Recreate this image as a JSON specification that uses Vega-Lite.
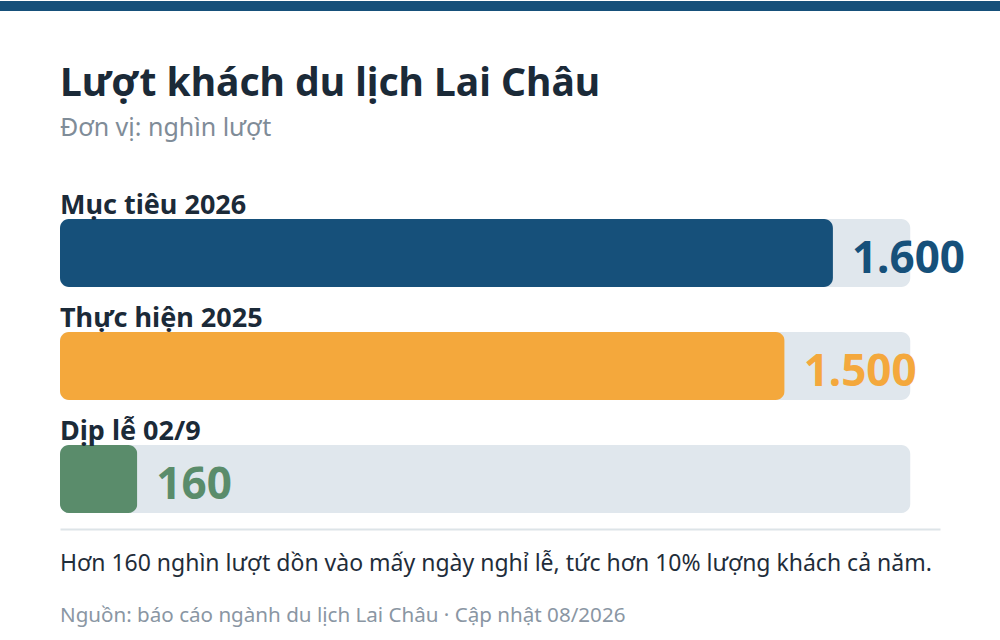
{
  "$schema": "https://vega.github.io/schema/vega-lite/v6.json",
  "background": "white",
  "padding": 0,
  "bounds": "flush",
  "spacing": 163,
  "config": {
    "font": "Noto Sans",
    "view": {"stroke": null},
    "locale": {"number": {"decimal": ",", "thousands": ".", "grouping": [3], "currency": ["", " ₫"]}}
  },
  "vconcat": [
    {
      "width": 1000,
      "height": 10,
      "view": {"fill": "#16507a", "stroke": null},
      "data": {"values": [{}]},
      "mark": {"type": "text", "text": ""},
      "encoding": {}
    },
    {
      "bounds": "flush",
      "spacing": 59,
      "hconcat": [
        {
          "width": 1,
          "height": 1,
          "data": {"values": [{}]},
          "mark": {"type": "text", "text": ""},
          "encoding": {}
        },
        {
          "bounds": "flush",
          "spacing": 16,
          "resolve": {"scale": {"color": "independent", "size": "independent"}},
          "vconcat": [
            {
              "width": 880,
              "height": 339,
              "title": {
                "text": "Lượt khách du lịch Lai Châu",
                "subtitle": "Đơn vị: nghìn lượt",
                "anchor": "start",
                "frame": "group",
                "font": "Noto Sans",
                "fontSize": 39,
                "fontWeight": "bold",
                "color": "#1b2a38",
                "subtitleFont": "Noto Sans",
                "subtitleFontSize": 25,
                "subtitleColor": "#7f8c98",
                "subtitlePadding": 12,
                "offset": 33
              },
              "data": {
                "values": [
                  {"cat": "Mục tiêu 2026", "value": 1600},
                  {"cat": "Thực hiện 2025", "value": 1500},
                  {"cat": "Dịp lễ 02/9", "value": 160}
                ]
              },
              "encoding": {
                "y": {
                  "field": "cat",
                  "type": "nominal",
                  "axis": null,
                  "scale": {
                    "domain": ["Mục tiêu 2026", "Thực hiện 2025", "Dịp lễ 02/9"],
                    "paddingInner": 0.39823,
                    "paddingOuter": 0.1991,
                    "align": 1
                  }
                }
              },
              "layer": [
                {
                  "mark": {"type": "bar", "color": "#e0e7ed", "cornerRadius": 9},
                  "encoding": {
                    "x": {"datum": 0, "type": "quantitative", "axis": null, "scale": {"domain": [0, 1821.6], "nice": false, "zero": false}},
                    "x2": {"datum": 1760}
                  }
                },
                {
                  "mark": {"type": "bar", "cornerRadius": 9},
                  "encoding": {
                    "x": {"field": "value", "type": "quantitative"},
                    "color": {
                      "field": "cat",
                      "type": "nominal",
                      "legend": null,
                      "scale": {
                        "domain": ["Mục tiêu 2026", "Thực hiện 2025", "Dịp lễ 02/9"],
                        "range": ["#16507a", "#f4a83c", "#5a8c6b"]
                      }
                    }
                  }
                },
                {
                  "mark": {"type": "text", "align": "left", "baseline": "middle", "dx": 19, "dy": 7, "fontSize": 44, "fontWeight": "bold"},
                  "encoding": {
                    "x": {"field": "value", "type": "quantitative"},
                    "text": {"field": "value", "type": "quantitative", "format": ",.0f"},
                    "color": {"field": "cat", "type": "nominal"}
                  }
                },
                {
                  "mark": {"type": "text", "align": "left", "baseline": "alphabetic", "dy": -5, "fontSize": 27, "fontWeight": "bold", "color": "#1b2a38"},
                  "encoding": {
                    "x": {"datum": 0, "type": "quantitative"},
                    "y": {"field": "cat", "type": "nominal", "bandPosition": 0},
                    "text": {"field": "cat"}
                  }
                }
              ]
            },
            {
              "width": 880,
              "height": 100,
              "data": {
                "values": [
                  {"kind": "note", "text": "Hơn 160 nghìn lượt dồn vào mấy ngày nghỉ lễ, tức hơn 10% lượng khách cả năm."},
                  {"kind": "source", "text": "Nguồn: báo cáo ngành du lịch Lai Châu · Cập nhật 08/2026"}
                ]
              },
              "mark": {"type": "text", "align": "left", "baseline": "middle"},
              "encoding": {
                "x": {
                  "datum": 0,
                  "type": "quantitative",
                  "scale": {"domain": [0, 1]},
                  "axis": {"orient": "top", "domain": true, "domainColor": "#dde4e8", "domainWidth": 2, "ticks": false, "labels": false, "grid": false, "title": null}
                },
                "y": {
                  "field": "kind",
                  "type": "nominal",
                  "axis": null,
                  "scale": {"type": "point", "domain": ["note", "source"], "padding": 0.4615, "align": 0.729}
                },
                "text": {"field": "text"},
                "color": {
                  "field": "kind",
                  "type": "nominal",
                  "legend": null,
                  "scale": {"domain": ["note", "source"], "range": ["#1f2d3a", "#8a96a3"]}
                },
                "size": {
                  "field": "kind",
                  "type": "nominal",
                  "legend": null,
                  "scale": {"domain": ["note", "source"], "range": [23, 20.6]}
                }
              }
            }
          ]
        }
      ]
    }
  ]
}
